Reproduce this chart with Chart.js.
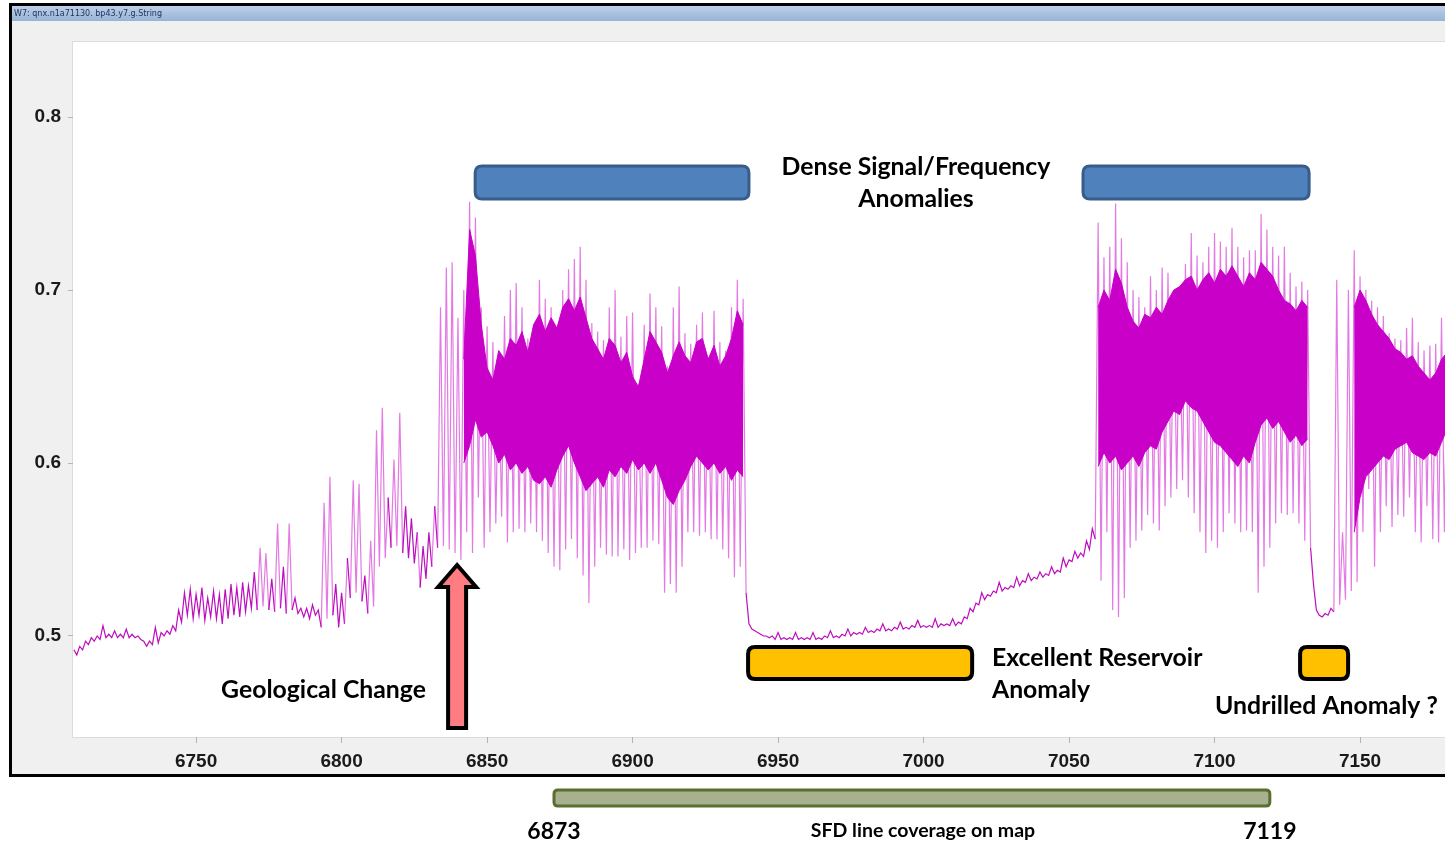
<!DOCTYPE html>
<html><head><meta charset="utf-8">
<script src="https://cdn.jsdelivr.net/npm/chart.js@4.4.1/dist/chart.umd.min.js"></script>
<style>html,body{margin:0;padding:0;background:#fff;}#wrap{width:1445px;height:846px;position:relative;}canvas{display:block;}</style>
</head><body><div id="wrap"><canvas id="c" width="1445" height="846"></canvas></div>
<script>
// ---- data ----
const depth = [
6708,6710,6712,6714,6716,6718,6720,6722,6724,6726,
6728,6730,6732,6734,6736,6738,6740,6742,6744,6746,
6748,6750,6752,6754,6756,6758,6760,6762,6764,6766,
6768,6770,6772,6774,6776,6778,6780,6782,6784,6786,
6788,6790,6792,6794,6796,6798,6800,6802,6804,6806,
6808,6810,6812,6814,6816,6818,6820,6822,6824,6826,
6828,6830,6832,6834,6836,6838,6840,6842,6844,6846,
6848,6850,6852,6854,6856,6858,6860,6862,6864,6866,
6868,6870,6872,6874,6876,6878,6880,6882,6884,6886,
6888,6890,6892,6894,6896,6898,6900,6902,6904,6906,
6908,6910,6912,6914,6916,6918,6920,6922,6924,6926,
6928,6930,6932,6934,6936,6938,6940,6942,6944,6946,
6948,6950,6952,6954,6956,6958,6960,6962,6964,6966,
6968,6970,6972,6974,6976,6978,6980,6982,6984,6986,
6988,6990,6992,6994,6996,6998,7000,7002,7004,7006,
7008,7010,7012,7014,7016,7018,7020,7022,7024,7026,
7028,7030,7032,7034,7036,7038,7040,7042,7044,7046,
7048,7050,7052,7054,7056,7058,7060,7062,7064,7066,
7068,7070,7072,7074,7076,7078,7080,7082,7084,7086,
7088,7090,7092,7094,7096,7098,7100,7102,7104,7106,
7108,7110,7112,7114,7116,7118,7120,7122,7124,7126,
7128,7130,7132,7134,7136,7138,7140,7142,7144,7146,
7148,7150,7152,7154,7156,7158,7160,7162,7164,7166,
7168,7170,7172,7174,7176,7178,7180];

const hi = [
.492,.494,.497,.499,.500,.506,.501,.503,.501,.504,
.501,.500,.497,.497,.505,.502,.503,.506,.515,.525,
.527,.524,.528,.522,.526,.524,.527,.530,.528,.531,
.529,.537,.551,.548,.533,.565,.540,.565,.522,.516,
.516,.518,.515,.577,.592,.530,.525,.545,.590,.588,
.535,.555,.619,.632,.580,.602,.629,.575,.568,.560,
.552,.560,.575,.690,.713,.716,.684,.700,.751,.742,
.690,.679,.670,.658,.685,.700,.704,.690,.672,.680,
.706,.695,.690,.677,.700,.712,.718,.725,.706,.681,
.676,.671,.690,.700,.673,.685,.687,.646,.680,.698,
.690,.679,.656,.690,.702,.675,.669,.680,.687,.661,
.688,.670,.665,.690,.706,.695,.507,.503,.501,.500,
.500,.502,.499,.499,.502,.499,.499,.502,.499,.500,
.503,.500,.501,.504,.502,.502,.505,.503,.504,.507,
.504,.505,.508,.505,.506,.509,.506,.506,.510,.507,
.507,.510,.508,.511,.516,.519,.525,.524,.526,.531,
.528,.529,.534,.532,.536,.534,.537,.536,.540,.538,
.545,.544,.549,.548,.555,.562,.739,.719,.725,.750,
.730,.716,.700,.696,.690,.708,.700,.713,.710,.700,
.696,.715,.733,.720,.716,.725,.733,.728,.725,.736,
.725,.719,.723,.723,.744,.735,.725,.720,.725,.710,
.702,.705,.700,.530,.512,.513,.516,.706,.560,.700,
.723,.708,.700,.694,.690,.685,.675,.672,.671,.678,
.684,.670,.665,.668,.669,.684,.680];

const lo = [
.489,.492,.495,.497,.498,.499,.499,.499,.499,.499,
.499,.498,.494,.495,.496,.500,.501,.503,.508,.512,
.510,.512,.509,.511,.510,.507,.510,.512,.511,.514,
.516,.515,.517,.515,.514,.516,.513,.515,.513,.511,
.510,.512,.505,.510,.512,.505,.507,.522,.525,.520,
.513,.517,.540,.545,.551,.552,.548,.545,.542,.528,
.533,.540,.551,.552,.550,.548,.544,.560,.548,.580,
.551,.560,.565,.569,.554,.560,.562,.560,.565,.560,
.555,.548,.540,.538,.550,.556,.545,.535,.519,.540,
.551,.547,.546,.546,.550,.544,.548,.551,.551,.555,
.553,.525,.530,.525,.540,.560,.560,.558,.560,.556,
.556,.550,.545,.534,.540,.525,.504,.502,.500,.499,
.498,.498,.498,.498,.498,.498,.498,.498,.498,.499,
.499,.499,.500,.500,.501,.501,.502,.502,.503,.503,
.503,.504,.504,.504,.505,.505,.505,.505,.505,.506,
.506,.506,.507,.510,.514,.518,.521,.523,.525,.526,
.527,.528,.529,.531,.532,.533,.534,.535,.536,.537,
.540,.543,.545,.546,.550,.556,.532,.560,.515,.511,
.522,.551,.555,.561,.570,.565,.561,.575,.580,.585,
.590,.580,.571,.560,.548,.555,.551,.560,.571,.565,
.560,.561,.560,.525,.540,.551,.565,.571,.570,.571,
.565,.555,.551,.515,.511,.512,.514,.518,.521,.526,
.531,.560,.585,.540,.560,.575,.563,.570,.569,.580,
.560,.554,.575,.556,.554,.560,.562];

// solid core of the dense signal zones (null = gap between zones)
const coreDepth = [
6842,6844,6846,6848,6850,6852,6854,6856,6858,6860,6862,6864,6866,6868,6870,6872,6874,6876,6878,6880,
6882,6884,6886,6888,6890,6892,6894,6896,6898,6900,6902,6904,6906,6908,6910,6912,6914,6916,6918,6920,
6922,6924,6926,6928,6930,6932,6934,6936,6938,
6990,
7060,7062,7064,7066,7068,7070,7072,7074,7076,7078,7080,7082,7084,7086,7088,7090,7092,7094,7096,7098,
7100,7102,7104,7106,7108,7110,7112,7114,7116,7118,7120,7122,7124,7126,7128,7130,7132,
7140,
7148,7150,7152,7154,7156,7158,7160,7162,7164,7166,7168,7170,7172,7174,7176,7178,7180];
const coreTop = [
.660,.735,.720,.680,.655,.648,.665,.660,.672,.668,.676,.664,.680,.686,.676,.684,.678,.690,.695,.688,
.696,.684,.672,.666,.660,.672,.668,.658,.664,.650,.644,.660,.676,.670,.664,.652,.662,.670,.662,.658,
.670,.672,.660,.668,.656,.662,.672,.688,.680,
null,
.690,.700,.694,.712,.704,.690,.682,.678,.686,.684,.690,.686,.694,.700,.702,.706,.708,.700,.706,.710,
.704,.712,.708,.714,.708,.702,.710,.706,.716,.712,.708,.700,.694,.692,.688,.694,.690,
null,
.690,.700,.694,.686,.680,.676,.672,.666,.664,.660,.662,.656,.652,.648,.652,.660,.664];
const coreBot = [
.600,.610,.625,.615,.618,.610,.600,.605,.596,.600,.594,.598,.590,.588,.592,.586,.596,.604,.610,.600,
.592,.584,.588,.592,.586,.596,.592,.598,.594,.602,.596,.600,.594,.600,.590,.580,.576,.584,.590,.598,
.604,.600,.596,.600,.594,.598,.590,.596,.592,
null,
.598,.606,.600,.604,.596,.600,.604,.598,.606,.610,.608,.618,.624,.630,.628,.636,.632,.630,.624,.618,
.612,.610,.606,.602,.598,.604,.600,.612,.622,.626,.620,.624,.618,.612,.616,.610,.614,
null,
.560,.580,.592,.596,.600,.604,.602,.608,.610,.612,.606,.604,.602,.606,.604,.612,.620];

const xTicks = [6750,6800,6850,6900,6950,7000,7050,7100,7150];
const yTicks = [0.5,0.6,0.7,0.8];
const xRange = [6707.7, 7179.2];
const yRange = [0.4416, 0.8434];
const coverage = [6873, 7119];
const denseZones = [[6845.9, 6940.0], [7054.8, 7132.5]];
const reservoirZones = [[6939.7, 7016.7], [7129.4, 7145.9]];
const geoChangeDepth = 6839.7;

// ---- build the line table ----
const zig = [];
depth.forEach((d, i) => { zig.push({x: d, y: hi[i]}); zig.push({x: d + 1, y: lo[i]}); });
const coreT = coreDepth.map((d, i) => ({x: d, y: coreTop[i]}));
const coreB = coreDepth.map((d, i) => ({x: d, y: coreBot[i]}));

function rrect(ctx, x, y, w, h, r) {
  ctx.beginPath();
  ctx.moveTo(x + r, y);
  ctx.lineTo(x + w - r, y); ctx.quadraticCurveTo(x + w, y, x + w, y + r);
  ctx.lineTo(x + w, y + h - r); ctx.quadraticCurveTo(x + w, y + h, x + w - r, y + h);
  ctx.lineTo(x + r, y + h); ctx.quadraticCurveTo(x, y + h, x, y + h - r);
  ctx.lineTo(x, y + r); ctx.quadraticCurveTo(x, y, x + r, y);
  ctx.closePath();
}

const chrome = {
  id: 'chrome',
  beforeDraw(chart) {
    const {ctx, chartArea: a} = chart;
    const W = chart.width;
    ctx.save();
    ctx.fillStyle = '#ffffff'; ctx.fillRect(0, 0, W, chart.height);
    ctx.fillStyle = '#f0f0f0'; ctx.fillRect(11, 5, W - 11, 771);
    const g = ctx.createLinearGradient(0, 6, 0, 21);
    g.addColorStop(0, '#bcd0e8'); g.addColorStop(1, '#98b3d6');
    ctx.fillStyle = g; ctx.fillRect(11, 6, W - 11, 15);
    ctx.fillStyle = '#1f2f5c'; ctx.font = '8px "DejaVu Sans"'; ctx.textBaseline = 'middle'; ctx.textAlign = 'left';
    ctx.fillText('W7: qnx.n1a71130. bp43.y7.g.String', 14, 14);
    ctx.fillStyle = '#ffffff'; ctx.fillRect(a.left, a.top, a.right - a.left, a.bottom - a.top);
    ctx.strokeStyle = '#dcdcdc'; ctx.lineWidth = 1;
    ctx.strokeRect(a.left - 0.5, a.top - 0.5, a.right - a.left + 1, a.bottom - a.top + 1);
    ctx.strokeStyle = '#000'; ctx.lineWidth = 3;
    ctx.strokeRect(10.5, 4.5, W + 10, 771);
    ctx.restore();
  }
};

const annotations = {
  id: 'annotations',
  afterDraw(chart) {
    const {ctx} = chart;
    const xs = chart.scales.x, ys = chart.scales.y;
    const X = v => xs.getPixelForValue(v), Y = v => ys.getPixelForValue(v);
    ctx.save();
    denseZones.forEach(([a, b]) => {
      rrect(ctx, X(a), Y(0.7717), X(b) - X(a), Y(0.7526) - Y(0.7717), 7);
      ctx.fillStyle = '#4f81bd'; ctx.fill();
      ctx.lineWidth = 3; ctx.strokeStyle = '#385d8a'; ctx.stroke();
    });
    reservoirZones.forEach(([a, b]) => {
      rrect(ctx, X(a), Y(0.4936), X(b) - X(a), Y(0.4751) - Y(0.4936), 7);
      ctx.fillStyle = '#ffc000'; ctx.fill();
      ctx.lineWidth = 4; ctx.strokeStyle = '#000'; ctx.stroke();
    });
    const cx = X(geoChangeDepth), tip = Y(0.5410), base = Y(0.5283), bot = Y(0.4468);
    ctx.beginPath();
    ctx.moveTo(cx, tip); ctx.lineTo(cx + 19, base); ctx.lineTo(cx + 9, base); ctx.lineTo(cx + 9, bot);
    ctx.lineTo(cx - 9, bot); ctx.lineTo(cx - 9, base); ctx.lineTo(cx - 19, base); ctx.closePath();
    ctx.fillStyle = '#ff7c80'; ctx.fill();
    ctx.lineWidth = 4; ctx.lineJoin = 'miter'; ctx.strokeStyle = '#000'; ctx.stroke();
    ctx.fillStyle = '#000'; ctx.textBaseline = 'middle';
    ctx.font = 'bold 24.8px Lato';
    ctx.textAlign = 'center';
    ctx.fillText('Dense Signal/Frequency', X(6997.4), Y(0.7711));
    ctx.fillText('Anomalies', X(6997.4), Y(0.7526));
    ctx.textAlign = 'left';
    ctx.fillText('Excellent Reservoir', X(7023.5), Y(0.4873));
    ctx.fillText('Anomaly', X(7023.5), Y(0.4688));
    ctx.fillText('Undrilled Anomaly ?', X(7100.2), Y(0.4595));
    ctx.fillText('Geological Change', X(6758.6), Y(0.4688));
    const l = X(coverage[0]), r = X(coverage[1]);
    rrect(ctx, l, Y(0.4110), r - l, Y(0.4017) - Y(0.4110), 4);
    ctx.fillStyle = '#a8b18e'; ctx.fill();
    ctx.lineWidth = 3; ctx.strokeStyle = '#5b6e30'; ctx.stroke();
    ctx.fillStyle = '#000';
    ctx.font = 'bold 23px Lato'; ctx.textAlign = 'center';
    ctx.fillText(String(coverage[0]), l, Y(0.3867));
    ctx.fillText(String(coverage[1]), r, Y(0.3867));
    ctx.font = 'bold 19.5px Lato';
    ctx.fillText('SFD line coverage on map', X(6999.8), Y(0.3873));
    ctx.restore();
  }
};

const tickFont = {family: '"Liberation Sans", Arial, sans-serif', size: 19, weight: 'bold'};
// long vertical excursions (spikes) look lighter in the original; the baseline trace is darker
const segColor = c => Math.abs(c.p1.parsed.y - c.p0.parsed.y) > 0.03 ? 'rgba(210,40,210,0.62)' : 'rgba(185,0,185,0.95)';

new Chart(document.getElementById('c'), {
  type: 'line',
  data: {
    datasets: [
      {data: zig, borderColor: 'rgba(200,0,200,0.8)', segment: {borderColor: segColor}, borderWidth: 1.2, pointRadius: 0, tension: 0, fill: false, order: 3},
      {data: coreT, borderColor: '#c800c8', backgroundColor: '#c800c8', borderWidth: 1, pointRadius: 0, tension: 0, fill: '+1', spanGaps: false, order: 1},
      {data: coreB, borderColor: '#c800c8', borderWidth: 1, pointRadius: 0, tension: 0, fill: false, spanGaps: false, order: 2}
    ]
  },
  options: {
    responsive: false, animation: false, devicePixelRatio: 1,
    layout: {padding: {left: 0, right: 0, top: 42, bottom: 0}},
    plugins: {legend: {display: false}, tooltip: {enabled: false}},
    scales: {
      x: {
        type: 'linear', min: xRange[0], max: xRange[1],
        afterBuildTicks: s => { s.ticks = xTicks.map(v => ({value: v})); },
        afterFit: s => { s.height = 109; },
        ticks: {color: '#1a1a1a', font: tickFont, padding: 7, maxRotation: 0, autoSkip: false, callback: v => String(v)},
        grid: {drawOnChartArea: false, drawTicks: true, tickLength: 6, color: '#b5b5b5'},
        border: {display: false}
      },
      y: {
        type: 'linear', min: yRange[0], max: yRange[1],
        afterBuildTicks: s => { s.ticks = yTicks.map(v => ({value: v})); },
        afterFit: s => { s.width = 73; },
        ticks: {color: '#1a1a1a', font: tickFont, padding: 7, callback: v => v.toFixed(1)},
        grid: {drawOnChartArea: false, drawTicks: true, tickLength: 5, color: '#b5b5b5'},
        border: {display: false}
      }
    }
  },
  plugins: [chrome, annotations]
});
</script>
</body></html>
